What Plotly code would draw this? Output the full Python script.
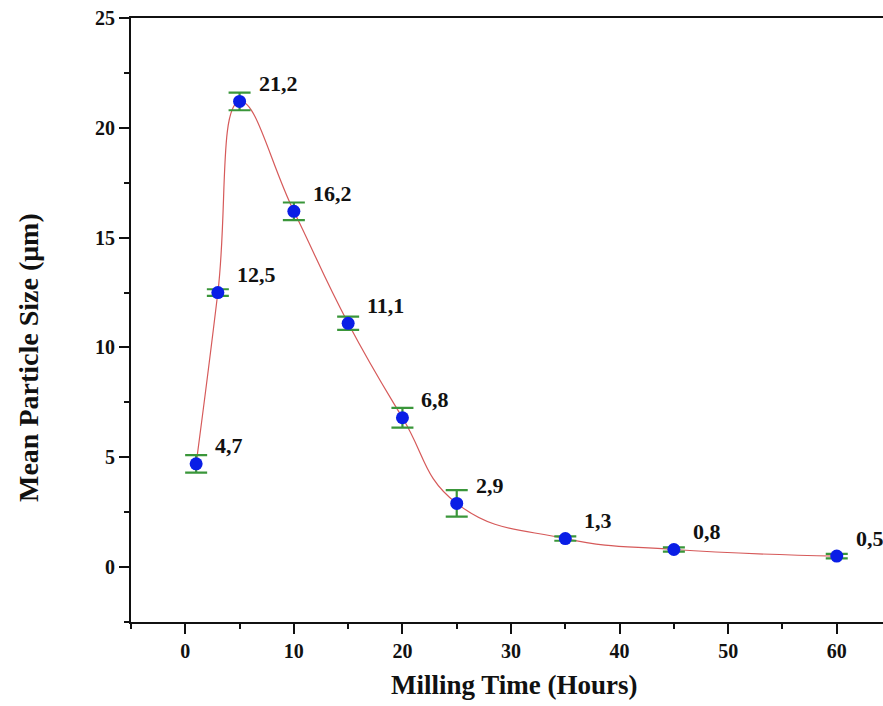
import plotly.graph_objects as go

# Data
milling_time = [1, 3, 5, 10, 15, 20, 25, 35, 45, 60]
particle_size = [4.7, 12.5, 21.2, 16.2, 11.1, 6.8, 2.9, 1.3, 0.8, 0.5]
size_error = [0.4, 0.15, 0.4, 0.4, 0.3, 0.45, 0.6, 0.1, 0.1, 0.1]
x_ticks = [0, 10, 20, 30, 40, 50, 60]
y_ticks = [0, 5, 10, 15, 20, 25]

FONT = "Liberation Serif"
W, H = 883, 706
ML, MR, MT, MB = 131, 0, 18, 84

fig = go.Figure()

# smooth fitted curve
fig.add_trace(go.Scatter(
    x=milling_time, y=particle_size, mode="lines",
    line=dict(color="#d65a5a", width=1.2, shape="spline", smoothing=1.3),
    hoverinfo="skip", showlegend=False,
))

# points with error bars
fig.add_trace(go.Scatter(
    x=milling_time, y=particle_size, mode="markers",
    marker=dict(color="#0a1ee6", size=13),
    error_y=dict(type="data", array=size_error, visible=True,
                 color="#3a963a", thickness=2.2, width=11),
    showlegend=False,
))

# value labels
for xv, yv in zip(milling_time, particle_size):
    fig.add_annotation(
        x=xv, y=yv, xref="x", yref="y",
        text=f"{yv:.1f}".replace(".", ","),
        showarrow=False, xanchor="left", yanchor="middle",
        xshift=17, yshift=18,
        font=dict(family=FONT, size=22, color="#111", weight="bold"),
    )

pw = W - ML - MR
ph = H - MT - MB

# axis titles
fig.add_annotation(
    text="Milling Time (Hours)", xref="paper", yref="paper",
    x=(514 - ML) / pw, y=(H - MB - 685) / ph,
    xanchor="center", yanchor="middle", showarrow=False,
    font=dict(family=FONT, size=27, color="#111", weight="bold"),
)
fig.add_annotation(
    text="Mean Particle Size (μm)", xref="paper", yref="paper",
    x=(28 - ML) / pw, y=(H - MB - 358) / ph, textangle=-90,
    xanchor="center", yanchor="middle", showarrow=False,
    font=dict(family=FONT, size=28, color="#111", weight="bold"),
)

axis_common = dict(
    showgrid=False, zeroline=False, showline=True, linecolor="#111", linewidth=2,
    ticks="outside", ticklen=10, tickwidth=2, tickcolor="#111",
    tickfont=dict(family=FONT, size=20, color="#111", weight="bold"),
)

fig.update_xaxes(
    range=[-5, 64.26], tickvals=x_ticks, mirror=True,
    minor=dict(ticks="outside", ticklen=5, tickwidth=2, tickcolor="#111", dtick=5, tick0=5),
    **axis_common,
)
fig.update_yaxes(
    range=[-2.5, 25], tickvals=y_ticks, mirror=False,
    minor=dict(ticks="outside", ticklen=5, tickwidth=2, tickcolor="#111", dtick=5, tick0=2.5),
    **axis_common,
)

fig.update_layout(
    width=W, height=H,
    margin=dict(l=ML, r=MR, t=MT, b=MB, pad=0),
    paper_bgcolor="white", plot_bgcolor="white",
)

fig.write_html("out.html")
